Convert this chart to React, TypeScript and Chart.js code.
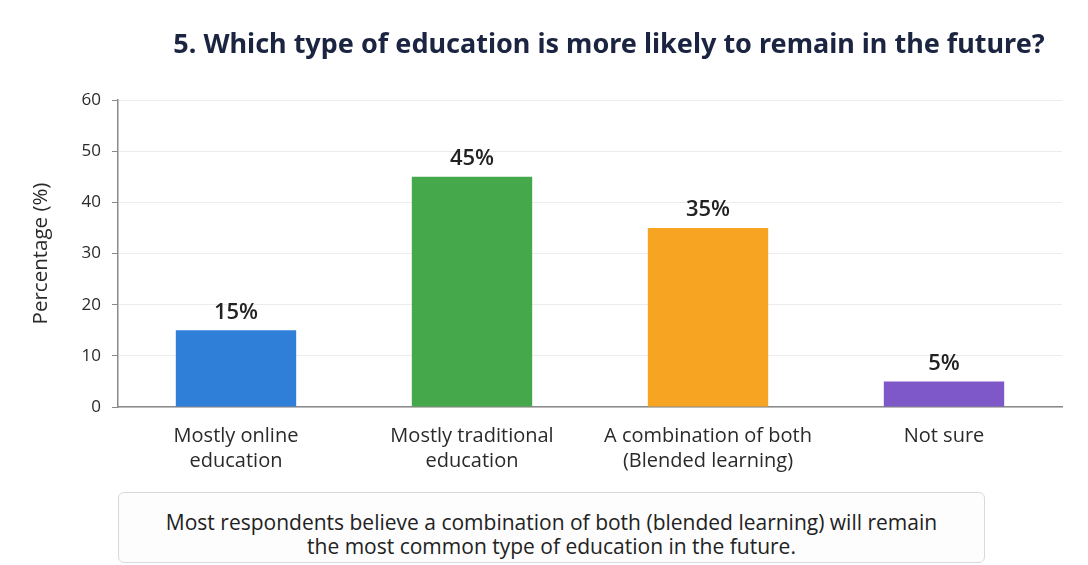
import React, { useEffect, useRef } from "react";
import { Chart, registerables } from "chart.js";

Chart.register(...registerables);

const categories: string[][] = [
  ["Mostly online", "education"],
  ["Mostly traditional", "education"],
  ["A combination of both", "(Blended learning)"],
  ["Not sure"],
];
const values: number[] = [15, 45, 35, 5];
const barColors: string[] = ["#2F7FD8", "#45A84B", "#F6A421", "#7E57C8"];
const yTicks: number[] = [0, 10, 20, 30, 40, 50, 60];
const titleText = "5. Which type of education is more likely to remain in the future?";
const yTitle = "Percentage (%)";
const noteLines: string[] = [
  "Most respondents believe a combination of both (blended learning) will remain",
  "the most common type of education in the future.",
];

const valueLabels = {
  id: "valueLabels",
  afterDatasetsDraw(chart: any) {
    const ctx = chart.ctx;
    const meta = chart.getDatasetMeta(0);
    ctx.save();
    ctx.font = "600 22px 'Open Sans'";
    ctx.fillStyle = "#222222";
    ctx.textAlign = "center";
    ctx.textBaseline = "bottom";
    meta.data.forEach((bar: any, i: number) => {
      ctx.fillText(values[i] + "%", bar.x, bar.y - 7);
    });
    ctx.restore();
  },
};

const titleDraw = {
  id: "titleDraw",
  afterDraw(chart: any) {
    const ctx = chart.ctx;
    ctx.save();
    ctx.font = "bold 27px 'Noto Sans'";
    ctx.fillStyle = "#1B2440";
    ctx.textAlign = "center";
    ctx.textBaseline = "middle";
    ctx.fillText(titleText, 609, 45);
    ctx.restore();
  },
};

export default function App() {
  const ref = useRef<HTMLCanvasElement>(null);
  useEffect(() => {
    const chart = new Chart(ref.current!, {
      type: "bar",
      data: {
        labels: categories,
        datasets: [
          {
            data: values,
            backgroundColor: barColors,
            barPercentage: 0.6,
            categoryPercentage: 0.85,
          },
        ],
      },
      options: {
        animation: false,
        responsive: false,
        maintainAspectRatio: false,
        layout: { padding: { left: 0, right: 26, top: 100, bottom: 78 } },
        plugins: {
          legend: { display: false },
          tooltip: { enabled: false },
          title: { display: false },
        },
        scales: {
          x: {
            grid: { display: false, drawTicks: false },
            border: { display: true, color: "#8a8a8a", width: 1.5 },
            ticks: {
              color: "#2a2a2a",
              font: { family: "Open Sans", size: 20, lineHeight: 1.25 },
              padding: 17,
              maxRotation: 0,
              autoSkip: false,
            },
            afterFit: (s: any) => {
              s.height = 80;
            },
          },
          y: {
            min: 0,
            max: 60,
            afterBuildTicks: (s: any) => {
              s.ticks = yTicks.map((v) => ({ value: v }));
            },
            grid: {
              color: "#ececec",
              tickColor: "#8a8a8a",
              tickLength: 6,
              drawTicks: true,
            },
            border: { display: true, color: "#8a8a8a", width: 1.5 },
            ticks: {
              color: "#2a2a2a",
              font: { family: "Open Sans", size: 17 },
              padding: 11,
            },
            title: {
              display: true,
              text: yTitle,
              color: "#2a2a2a",
              font: { family: "Open Sans", size: 20.5, lineHeight: 1.2 },
              padding: { top: 29, bottom: 0 },
            },
            afterFit: (s: any) => {
              s.width = 118;
            },
          },
        },
      },
      plugins: [valueLabels, titleDraw],
    });
    return () => chart.destroy();
  }, []);

  return (
    <div
      style={{
        position: "fixed",
        left: 0,
        top: 0,
        width: 1088,
        height: 565,
        background: "#ffffff",
        overflow: "hidden",
      }}
    >
      <canvas ref={ref} width={1088} height={565} style={{ display: "block" }} />
      <div
        style={{
          position: "absolute",
          left: 118,
          top: 492,
          width: 867,
          height: 71,
          boxSizing: "border-box",
          border: "1px solid #d9d9d9",
          borderRadius: 6,
          background: "#fdfdfd",
          paddingTop: 17,
          fontFamily: "'Open Sans'",
          fontSize: 21,
          lineHeight: "24px",
          color: "#222222",
          textAlign: "center",
          whiteSpace: "nowrap",
        }}
      >
        {noteLines.map((l, i) => (
          <div key={i}>{l}</div>
        ))}
      </div>
    </div>
  );
}
